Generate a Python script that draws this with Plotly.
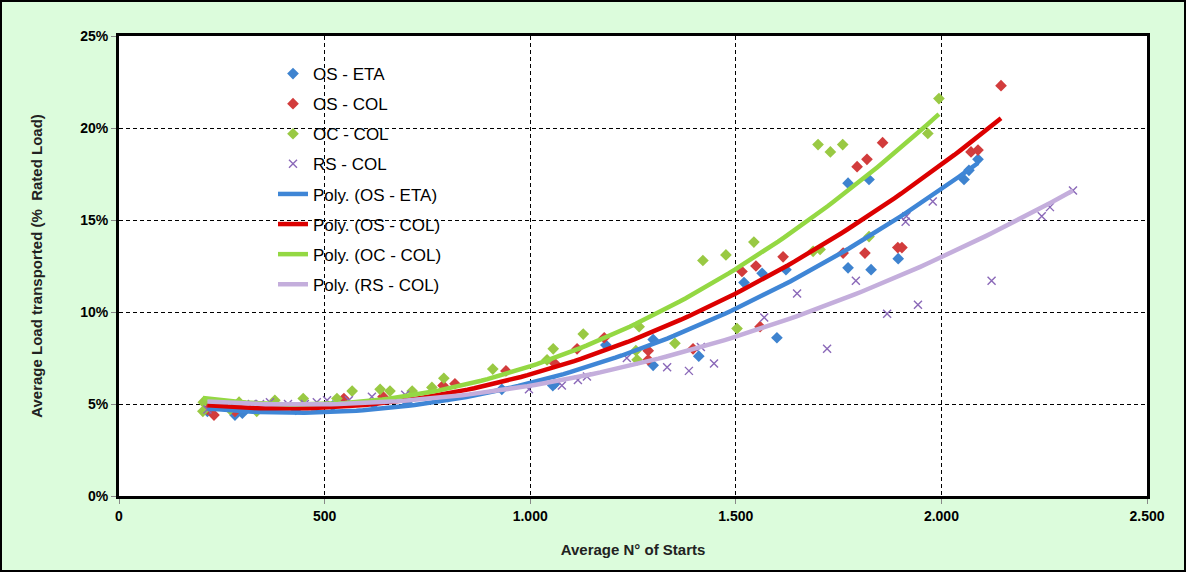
import numpy as np
import plotly.graph_objects as go

# ---- data (Average N° of starts, Average load transported %) ----
os_eta_x = [215, 282, 300, 430, 520, 620, 700, 800, 931, 1055, 1060, 1184, 1299, 1299, 1410,
            1520, 1564, 1600, 1622, 1773, 1773, 1824, 1829, 1895, 2055, 2067, 2089]
os_eta_y = [4.6, 4.4, 4.5, 4.7, 4.9, 5.0, 5.1, 5.4, 5.8, 6.0, 6.1, 8.2, 8.5, 7.1, 7.6,
            11.6, 12.1, 8.6, 12.3, 12.4, 17.0, 17.2, 12.3, 12.9, 17.2, 17.7, 18.3]

os_col_x = [215, 231, 282, 547, 642, 788, 817, 941, 1060, 1114, 1180, 1287, 1287, 1396,
            1515, 1549, 1559, 1615, 1761, 1795, 1814, 1819, 1857, 1894, 1904, 2072, 2089, 2145]
os_col_y = [4.7, 4.4, 4.6, 5.3, 5.4, 6.0, 6.1, 6.8, 7.2, 8.0, 8.6, 7.9, 7.4, 8.0,
            12.2, 12.5, 9.2, 13.0, 13.2, 17.9, 13.2, 18.3, 19.2, 13.5, 13.5, 18.7, 18.8, 22.3]

oc_col_x = [204, 205, 270, 292, 335, 379, 448, 530, 567, 635, 659, 713, 761, 790, 909,
            1041, 1056, 1129, 1257, 1260, 1265, 1352, 1420, 1476, 1503, 1544, 1688, 1700,
            1705, 1730, 1760, 1824, 1967, 1994]
oc_col_y = [4.6, 5.1, 4.7, 5.1, 4.6, 5.2, 5.3, 5.3, 5.7, 5.8, 5.7, 5.7, 5.9, 6.4, 6.9,
            7.4, 8.0, 8.8, 7.9, 7.4, 9.2, 8.3, 12.8, 13.1, 9.1, 13.8, 13.3, 19.1,
            13.4, 18.7, 19.1, 14.1, 19.7, 21.6]

rs_col_x = [215, 323, 343, 367, 411, 452, 481, 506, 559, 615, 696, 997, 1077, 1116, 1138,
            1235, 1333, 1386, 1415, 1447, 1569, 1649, 1722, 1792, 1868, 1913, 1915, 1943,
            1979, 2122, 2244, 2264, 2320]
rs_col_y = [4.7, 5.0, 5.0, 5.1, 5.0, 5.0, 5.1, 5.2, 5.2, 5.4, 5.5, 5.8, 6.0, 6.3, 6.5,
            7.5, 7.0, 6.8, 8.1, 7.2, 9.7, 11.0, 8.0, 11.7, 9.9, 14.9, 15.2, 10.4,
            16.0, 11.7, 15.2, 15.7, 16.6]

series_names = ["OS - ETA", "OS - COL", "OC - COL", "RS - COL"]
x_ticks = [0, 500, 1000, 1500, 2000, 2500]
y_ticks = [0, 5, 10, 15, 20, 25]
y_tick_labels = ["0%", "5%", "10%", "15%", "20%", "25%"]

marker_colors = ["#3E83CF", "#D23C3C", "#99C943", "#8A68B8"]
marker_symbols = ["diamond", "diamond", "diamond", "x-thin"]
trend_colors = ["#3F86D6", "#DC0000", "#94D843", "#C4AEDC"]

data = [(os_eta_x, os_eta_y), (os_col_x, os_col_y), (oc_col_x, oc_col_y), (rs_col_x, rs_col_y)]

fig = go.Figure()
for i, (name, (xs, ys)) in enumerate(zip(series_names, data)):
    sym = marker_symbols[i]
    if sym == "x-thin":
        mk = dict(color=marker_colors[i], size=8, symbol=sym,
                  line=dict(color=marker_colors[i], width=1.4))
    else:
        mk = dict(color=marker_colors[i], size=9, symbol=sym)
    fig.add_trace(go.Scatter(x=xs, y=ys, mode="markers", name=name, marker=mk,
                             legendgroup=f"g{i}"))

for i, (name, (xs, ys)) in enumerate(zip(series_names, data)):
    coef = np.polyfit(xs, ys, 2)
    tx = np.linspace(min(xs), max(xs), 120)
    ty = np.polyval(coef, tx)
    fig.add_trace(go.Scatter(x=tx, y=ty, mode="lines", name=f"Poly. ({name})",
                             line=dict(color=trend_colors[i], width=4.5),
                             legendgroup=f"t{i}"))

W, H = 1186, 572
L, R, T, B = 119, 39, 36, 76
pw, ph = W - L - R, H - T - B

fig.update_layout(
    width=W, height=H,
    margin=dict(l=L, r=R, t=T, b=B, autoexpand=False),
    paper_bgcolor="#DCFCDC",
    plot_bgcolor="#FFFFFF",
    separators=",.",
    font=dict(family="Liberation Sans, Arial, sans-serif", color="#000000"),
    showlegend=True,
    legend=dict(x=(273 - L) / pw, y=(496 - 56) / ph, xanchor="left", yanchor="top",
                bgcolor="rgba(255,255,255,0)", borderwidth=0,
                font=dict(size=17, color="#000000"),
                traceorder="grouped", tracegroupgap=5, itemwidth=30),
    xaxis=dict(range=[0, 2500], tickvals=x_ticks, tickformat=",d",
               showgrid=True, gridcolor="#000000", griddash="4px,3px", gridwidth=1,
               showline=True, linecolor="#000000", linewidth=3, mirror=True,
               ticks="outside", ticklen=5, tickcolor="#888888",
               tickfont=dict(size=14, weight="bold", color="#000000"),
               title=dict(text="Average N° of Starts",
                          font=dict(size=15, weight="bold", color="#222222"), standoff=22),
               zeroline=False),
    yaxis=dict(range=[0, 25], tickvals=y_ticks, ticktext=y_tick_labels,
               showgrid=True, gridcolor="#000000", griddash="4px,3px", gridwidth=1,
               showline=True, linecolor="#000000", linewidth=3, mirror=True,
               ticks="outside", ticklen=5, tickcolor="#888888",
               tickfont=dict(size=14, weight="bold", color="#000000"),
               title=dict(text="Average Load transported (%  Rated Load)",
                          font=dict(size=15, weight="bold", color="#222222"), standoff=34),
               zeroline=False),
)

# outer border of the chart
fig.add_shape(type="rect", xref="paper", yref="paper",
              x0=-(L - 1) / pw, x1=1 + (R - 1) / pw, y0=-(B - 1) / ph, y1=1 + (T - 1) / ph,
              line=dict(color="#000000", width=2), fillcolor="rgba(0,0,0,0)", layer="below")

fig.write_html("out.html", config={"displayModeBar": False},
               post_script="document.body.style.margin='0px';")
